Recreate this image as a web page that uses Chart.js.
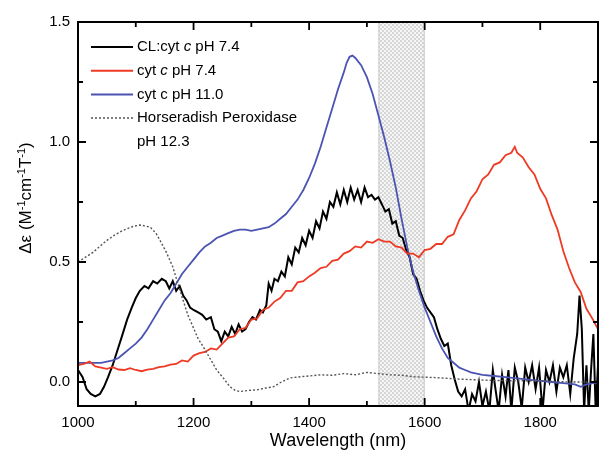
<!DOCTYPE html>
<html>
<head>
<meta charset="utf-8">
<script src="https://cdn.jsdelivr.net/npm/chart.js@4.4.0/dist/chart.umd.min.js"></script>
<style>
body{margin:0;background:#fff}
</style>
</head>
<body>
<canvas id="myChart" width="600" height="456"></canvas>
<script>
const FONT = "'Liberation Sans', Arial, sans-serif"

// CL:cyt c pH 7.4 (black)
const blackNm = [1000,1008,1015,1022,1030,1038,1045,1052,1060,1068,1076,1085,1093,1100,1107,1115,1122,1130,1137,1145,1152,1158,1164,1170,1176,1182,1188,1194,1200,1208,1215,1222,1230,1236,1242,1248,1254,1260,1266,1272,1278,1284,1290,1296,1302,1308,1315,1320,1326,1330,1335,1340,1346,1352,1358,1364,1370,1376,1382,1388,1394,1400,1406,1412,1418,1424,1430,1436,1442,1448,1454,1460,1466,1472,1478,1484,1490,1496,1502,1508,1514,1520,1526,1532,1538,1544,1550,1556,1562,1568,1574,1580,1586,1592,1598,1604,1610,1616,1622,1628,1634,1640,1646,1652,1658,1664,1670,1676,1682,1688,1694,1700,1706,1712,1718,1722,1728,1734,1740,1745,1750,1756,1762,1768,1774,1780,1786,1792,1798,1804,1810,1816,1822,1828,1834,1840,1846,1852,1858,1864,1868,1872,1876,1880,1884,1888,1892,1896,1900]
const blackDe = [0.05,0.02,-0.03,-0.05,-0.06,-0.05,-0.02,0.02,0.07,0.13,0.19,0.26,0.31,0.35,0.38,0.40,0.39,0.42,0.41,0.43,0.42,0.39,0.42,0.38,0.40,0.36,0.34,0.31,0.30,0.29,0.28,0.26,0.27,0.22,0.21,0.17,0.21,0.19,0.23,0.20,0.24,0.21,0.22,0.25,0.27,0.26,0.30,0.29,0.32,0.41,0.38,0.43,0.42,0.46,0.44,0.52,0.49,0.56,0.54,0.60,0.57,0.63,0.60,0.67,0.64,0.71,0.68,0.75,0.73,0.79,0.74,0.80,0.75,0.81,0.76,0.80,0.75,0.81,0.77,0.78,0.76,0.77,0.74,0.71,0.72,0.66,0.67,0.61,0.60,0.55,0.52,0.45,0.43,0.38,0.34,0.31,0.29,0.27,0.22,0.18,0.15,0.16,0.07,0.01,-0.04,-0.06,-0.03,-0.12,-0.05,-0.08,0.0,-0.10,-0.04,-0.12,0.05,-0.02,-0.12,0.03,-0.06,0.05,-0.12,0.06,0.0,-0.11,0.06,0.0,0.07,-0.03,0.06,-0.12,0.05,0.0,0.07,-0.04,0.06,0.02,0.07,-0.05,0.10,0.20,0.36,0.22,-0.12,0.07,-0.12,0.05,0.20,-0.12,0.07]

// cyt c pH 7.4 (red)
const redNm = [1000,1010,1020,1030,1040,1050,1060,1070,1080,1090,1100,1110,1120,1130,1140,1150,1160,1170,1180,1190,1200,1210,1220,1230,1240,1250,1260,1270,1280,1290,1300,1310,1320,1330,1340,1350,1360,1370,1380,1390,1400,1410,1420,1430,1440,1450,1460,1470,1480,1490,1500,1510,1520,1530,1540,1550,1560,1570,1580,1590,1600,1610,1620,1630,1640,1650,1660,1670,1680,1690,1700,1710,1720,1730,1740,1750,1756,1760,1770,1780,1790,1800,1810,1820,1830,1840,1850,1860,1870,1880,1890,1900]
const redDe = [0.07,0.075,0.085,0.065,0.06,0.055,0.062,0.052,0.05,0.058,0.05,0.045,0.052,0.055,0.062,0.065,0.072,0.075,0.09,0.085,0.11,0.12,0.125,0.14,0.135,0.16,0.185,0.19,0.22,0.225,0.26,0.265,0.30,0.31,0.335,0.35,0.38,0.38,0.415,0.42,0.44,0.455,0.475,0.48,0.505,0.51,0.535,0.545,0.565,0.56,0.585,0.58,0.595,0.585,0.585,0.565,0.56,0.535,0.535,0.52,0.55,0.555,0.575,0.575,0.605,0.615,0.675,0.715,0.765,0.795,0.845,0.865,0.905,0.915,0.945,0.955,0.98,0.955,0.935,0.895,0.865,0.805,0.765,0.695,0.635,0.545,0.475,0.415,0.375,0.305,0.265,0.22]

// cyt c pH 11.0 (blue)
const blueNm = [1000,1020,1040,1050,1060,1070,1080,1090,1100,1110,1120,1130,1140,1150,1160,1170,1180,1190,1200,1210,1220,1230,1240,1250,1260,1270,1280,1290,1300,1310,1320,1330,1340,1350,1360,1370,1380,1390,1400,1410,1420,1430,1440,1450,1460,1465,1470,1475,1480,1490,1500,1510,1520,1530,1540,1550,1560,1570,1580,1590,1600,1610,1620,1630,1640,1650,1660,1670,1680,1690,1700,1720,1740,1760,1780,1800,1820,1840,1860,1870,1880,1900]
const blueDe = [0.08,0.08,0.08,0.085,0.09,0.10,0.12,0.14,0.16,0.185,0.22,0.26,0.30,0.34,0.37,0.41,0.45,0.48,0.51,0.54,0.565,0.58,0.60,0.61,0.62,0.63,0.635,0.635,0.63,0.635,0.64,0.645,0.66,0.68,0.70,0.73,0.76,0.80,0.85,0.91,0.98,1.06,1.14,1.22,1.29,1.33,1.355,1.36,1.35,1.32,1.27,1.20,1.11,1.02,0.92,0.81,0.68,0.56,0.46,0.38,0.31,0.25,0.19,0.14,0.10,0.08,0.06,0.05,0.04,0.035,0.03,0.025,0.02,0.015,0.01,0.005,0.0,-0.005,-0.01,-0.02,-0.01,0.0]

// Horseradish Peroxidase pH 12.3 (dashed)
const hrpNm = [1000,1013,1026,1040,1050,1065,1079,1095,1107,1117,1125,1135,1142,1153,1164,1173,1182,1190,1199,1208,1217,1228,1240,1252,1263,1272,1280,1295,1309,1325,1338,1352,1367,1385,1400,1420,1440,1460,1480,1500,1520,1540,1560,1580,1600,1620,1640,1660,1680,1700,1750,1800,1850,1900]
const hrpDe = [0.50,0.52,0.54,0.57,0.59,0.615,0.633,0.648,0.654,0.65,0.645,0.62,0.59,0.54,0.48,0.41,0.34,0.28,0.23,0.18,0.146,0.10,0.05,0.015,-0.02,-0.035,-0.04,-0.035,-0.033,-0.025,-0.02,0.0,0.017,0.022,0.025,0.03,0.028,0.035,0.03,0.04,0.035,0.03,0.028,0.022,0.02,0.018,0.015,0.012,0.01,0.008,0.005,0.005,0.0,0.0]

const hatchBand = [1520, 1600]
const xMinorTicks = [1100,1300,1500,1700,1900]
const yMinorTicks = [0.25,0.75,1.25]

function pts(xs, ys){ return xs.map((x,i)=>({x:x, y:ys[i]})) }

const legendRows = [
  {color:'#000', dash:[], parts:[['CL:cyt ',''],['c','italic'],[' pH 7.4','']]},
  {color:'#ee3a24', dash:[], parts:[['cyt ',''],['c','italic'],[' pH 7.4','']]},
  {color:'#4b53b3', dash:[], parts:[['cyt c pH 11.0','']]},
  {color:'#555', dash:[2,2], parts:[['Horseradish Peroxidase','']]},
  {color:null, dash:[], parts:[['pH 12.3','']]}
]

function makePattern(ctx){
  const c = document.createElement('canvas')
  c.width = 4; c.height = 4
  const p = c.getContext('2d')
  p.fillStyle = '#f6f6f6'; p.fillRect(0,0,4,4)
  p.fillStyle = '#d6d6d6'; p.fillRect(0,0,2,2); p.fillRect(2,2,2,2)
  return ctx.createPattern(c,'repeat')
}

const decor = {
  id:'decor',
  beforeDatasetsDraw(chart){
    const ctx = chart.ctx, a = chart.chartArea, xs = chart.scales.x
    const x1 = xs.getPixelForValue(hatchBand[0]), x2 = xs.getPixelForValue(hatchBand[1])
    ctx.save()
    ctx.fillStyle = makePattern(ctx)
    ctx.fillRect(x1, a.top, x2-x1, a.bottom-a.top)
    ctx.strokeStyle = '#c8c8c8'; ctx.lineWidth = 1
    ctx.strokeRect(x1+0.5, a.top, x2-x1-1, a.bottom-a.top)
    ctx.restore()
  },
  afterDatasetsDraw(chart){
    const ctx = chart.ctx, a = chart.chartArea, xs = chart.scales.x, ys = chart.scales.y
    ctx.save()
    ctx.strokeStyle = '#000'; ctx.lineWidth = 2
    ctx.strokeRect(a.left, a.top, a.right-a.left, a.bottom-a.top)
    ctx.lineWidth = 1.8
    ctx.beginPath()
    xs.ticks.forEach(t=>{
      const px = xs.getPixelForValue(t.value)
      ctx.moveTo(px,a.bottom); ctx.lineTo(px,a.bottom-8)
      ctx.moveTo(px,a.top); ctx.lineTo(px,a.top+8)
    })
    xMinorTicks.forEach(v=>{
      const px = xs.getPixelForValue(v)
      ctx.moveTo(px,a.bottom); ctx.lineTo(px,a.bottom-5)
      ctx.moveTo(px,a.top); ctx.lineTo(px,a.top+5)
    })
    ys.ticks.forEach(t=>{
      const py = ys.getPixelForValue(t.value)
      ctx.moveTo(a.left,py); ctx.lineTo(a.left+8,py)
      ctx.moveTo(a.right,py); ctx.lineTo(a.right-8,py)
    })
    yMinorTicks.forEach(v=>{
      const py = ys.getPixelForValue(v)
      ctx.moveTo(a.left,py); ctx.lineTo(a.left+5,py)
      ctx.moveTo(a.right,py); ctx.lineTo(a.right-5,py)
    })
    ctx.stroke()

    // legend
    ctx.textBaseline = 'middle'
    legendRows.forEach((r,i)=>{
      const y = 47 + i*23.7
      if(r.color){
        ctx.strokeStyle = r.color; ctx.lineWidth = r.dash.length ? 1.5 : 2
        ctx.setLineDash(r.dash)
        ctx.beginPath(); ctx.moveTo(91,y); ctx.lineTo(133,y); ctx.stroke()
        ctx.setLineDash([])
      }
      let x = 137
      ctx.fillStyle = '#000'
      r.parts.forEach(p=>{
        ctx.font = (p[1] ? 'italic ' : '') + '15px ' + FONT
        ctx.fillText(p[0], x, y)
        x += ctx.measureText(p[0]).width
      })
    })
    ctx.restore()
  },
  afterDraw(chart){
    // y axis title with superscripts
    const ctx = chart.ctx
    const pieces = [['\u0394\u03b5 (M',0],['-1',1],['cm',0],['-1',1],['T',0],['-1',1],[')',0]]
    ctx.save()
    ctx.translate(25, 198)
    ctx.rotate(-Math.PI/2)
    let total = 0
    pieces.forEach(p=>{
      ctx.font = (p[1] ? '11px ' : '17px ') + FONT
      total += ctx.measureText(p[0]).width
    })
    let x = -total/2
    ctx.fillStyle = '#000'
    ctx.textBaseline = 'alphabetic'
    pieces.forEach(p=>{
      ctx.font = (p[1] ? '11px ' : '17px ') + FONT
      ctx.fillText(p[0], x, p[1] ? 0 : 6)
      x += ctx.measureText(p[0]).width
    })
    ctx.restore()
  }
}

const config = {
  type:'line',
  data:{
    datasets:[
      {label:'Horseradish Peroxidase pH 12.3', data:pts(hrpNm,hrpDe), borderColor:'#555', borderWidth:1.4, borderDash:[2,2]},
      {label:'cyt c pH 7.4', data:pts(redNm,redDe), borderColor:'#ee3a24', borderWidth:1.8},
      {label:'cyt c pH 11.0', data:pts(blueNm,blueDe), borderColor:'#4b53b3', borderWidth:1.8},
      {label:'CL:cyt c pH 7.4', data:pts(blackNm,blackDe), borderColor:'#000', borderWidth:2}
    ]
  },
  options:{
    responsive:false,
    devicePixelRatio:1,
    animation:false,
    layout:{padding:{top:22,right:2,left:0,bottom:0}},
    elements:{point:{radius:0}, line:{tension:0}},
    plugins:{legend:{display:false}, tooltip:{enabled:false}},
    scales:{
      x:{
        type:'linear', min:1000, max:1900,
        grid:{display:true, drawOnChartArea:false, drawTicks:false},
        border:{display:false},
        ticks:{stepSize:200, includeBounds:false, padding:8, color:'#000', font:{family:FONT, size:15}, callback:v=>String(v), maxRotation:0},
        title:{display:true, text:'Wavelength (nm)', color:'#000', font:{family:FONT, size:18}, padding:{top:2}},
        afterFit:s=>{ s.height = 50 }
      },
      y:{
        min:-0.1, max:1.5,
        grid:{display:true, drawOnChartArea:false, drawTicks:false},
        border:{display:false},
        ticks:{stepSize:0.5, includeBounds:false, padding:8, color:'#000', font:{family:FONT, size:15}, callback:v=>v.toFixed(1)},
        afterFit:s=>{ s.width = 78 }
      }
    }
  },
  plugins:[decor]
}

new Chart(document.getElementById('myChart'), config)
</script>
</body>
</html>
